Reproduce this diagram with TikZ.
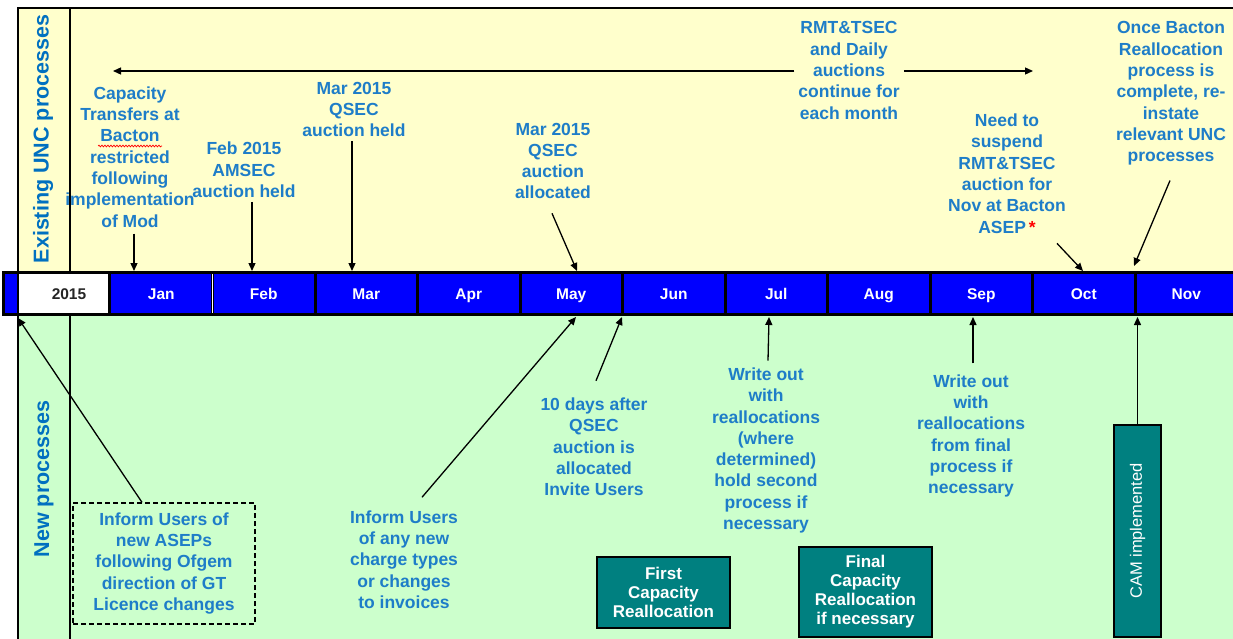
\documentclass[tikz,border=0pt]{standalone}
\usepackage{fontspec}
\setmainfont{Liberation Sans}
\usetikzlibrary{arrows.meta,calc,decorations.pathmorphing}
\definecolor{annblue}{RGB}{30,125,200}
\definecolor{hdrblue}{RGB}{0,112,192}
\definecolor{yel}{RGB}{255,255,204}
\definecolor{grn}{RGB}{204,255,204}
\definecolor{tealc}{RGB}{0,128,128}
\definecolor{barblue}{RGB}{0,0,255}
\begin{document}
\begin{tikzpicture}[x=1pt,y=-1pt,
  ann/.style={font=\bfseries\fontsize{17.5}{21.3}\selectfont, text=annblue, align=center, inner sep=0pt},
  arr/.style={-{Triangle[length=8pt,width=7pt]}, line width=1.3pt, black},
  tbox/.style={draw=black, line width=1.5pt, fill=tealc, text=white, font=\bfseries\fontsize{17}{19}\selectfont, align=center, inner sep=0pt},
  month/.style={minimum width=102.5pt, minimum height=39pt, inner sep=0pt, text height=11.2pt, text depth=0pt, text=white, font=\bfseries\fontsize{15.5}{18}\selectfont},
  hdr/.style={rotate=90, font=\bfseries\fontsize{21.5}{24}\selectfont, text=hdrblue, inner sep=0pt},
  sepline/.style={line width=3pt, black}
]
\useasboundingbox (0,0) rectangle (1233,639);
\fill[white] (0,0) rectangle (1233,639);
% panels
\fill[yel] (18,8) rectangle (1233,272);
\fill[grn] (18,315) rectangle (1233,639);
\draw[line width=1.5pt] (1233,8) -- (18,8) -- (18,639);
\draw[line width=1.5pt] (70,8) -- (70,272);
\draw[line width=1.5pt] (70,315) -- (70,639);
% timeline bar
\draw[fill=barblue, line width=3pt] (3,272.5) rectangle (1245,314.5);
\node[fill=white, minimum width=90pt, minimum height=39pt, inner sep=0pt] (yrcell) at (63,293.5) {};
\draw[line width=1.5pt] (18,272) -- (18,315);
\node[font=\bfseries\fontsize{15.5}{18}\selectfont, text=black!85, text height=11.2pt, text depth=0pt, inner sep=0pt] (yr) at (69,293.5) {2015};
\foreach \m [count=\i from 0] in {Jan,Feb,Mar,Apr,May,Jun,Jul,Aug,Sep,Oct,Nov}
  \node[month] (m\i) at ({110+102.5*(\i+0.5)},293.5) {\m};
\draw[sepline] (m0.north west) -- (m0.south west);
\foreach \i in {0,...,10}
  \draw[sepline] (m\i.north east) -- (m\i.south east);
\draw[white, line width=1.2pt] (m0.north east) -- (m0.south east);
% headers
\node[hdr] (exist) at (43,139) {Existing UNC processes};
\node[hdr] (newp) at (44,479) {New processes};
% top annotations
\node[ann] (cap) at (130,157) {Capacity\\Transfers at\\Bacton\\restricted\\following\\implementation\\of Mod};
\draw[red, line width=0.7pt, decorate, decoration={snake, amplitude=0.9pt, segment length=3pt}] (98,146) -- (162,146);
\node[ann] (feb) at (244,170) {Feb 2015\\AMSEC\\auction held};
\node[ann] (marq) at (354,109.5) {Mar 2015\\QSEC\\auction held};
\node[ann] (maya) at (553,161) {Mar 2015\\QSEC\\auction\\allocated};
\node[ann] (rmt) at (849,70.5) {RMT\&TSEC\\and Daily\\auctions\\continue for\\each month};
\node[ann] (need) at (1007,173.5) {Need to\\suspend\\RMT\&TSEC\\auction for\\Nov at Bacton\\ASEP\,\textcolor{red}{*}};
\node[ann] (once) at (1171,93.5) {Once Bacton\\Reallocation\\process is\\complete, re-\\instate\\relevant UNC\\processes};
% bottom annotations
\node[ann, draw=black, dash pattern=on 5pt off 3pt, line width=1.3pt, minimum width=182pt, minimum height=121pt] (inf) at (164,563.5) {Inform Users of\\new ASEPs\\following Ofgem\\direction of GT\\Licence changes};
\node[ann] (inv) at (404,559.5) {Inform Users\\of any new\\charge types\\or changes\\to invoices};
\node[ann] (ten) at (594,447) {10 days after\\QSEC\\auction is\\allocated\\Invite Users};
\node[ann] (wr1) at (766,450.5) {Write out\\with\\reallocations\\(where\\determined)\\hold second\\process if\\necessary};
\node[ann] (wr2) at (971,436) {Write out\\with\\reallocations\\from final\\process if\\necessary};
% teal boxes
\node[tbox, minimum width=133pt, minimum height=71pt] (first) at (663.5,592.5) {First\\Capacity\\Reallocation};
\node[tbox, minimum width=133pt, minimum height=90pt] (final) at (865.5,592) {Final\\Capacity\\Reallocation\\if necessary};
\node[tbox, minimum width=47pt, minimum height=212pt] (cam) at (1137.5,531) {};
\node[rotate=90, text=white, font=\fontsize{16.5}{18}\selectfont, inner sep=0pt] (camt) at (cam.center) {CAM implemented};
% arrow targets
\coordinate (tJan) at (134,271);
\coordinate (tFeb) at (252,271);
\coordinate (tMar) at (352,271);
\coordinate (tMay) at (577,271);
\coordinate (tOct) at (1083,271);
\coordinate (tNov) at (1134,266);
\coordinate (lEnd) at (113,71);
\coordinate (rEnd) at (1033,71);
\coordinate (bLeft) at (18,318);
\coordinate (bMay) at (576,317);
\coordinate (bJun) at (622,317);
\coordinate (bJul) at (769,317);
\coordinate (bSep) at (973,317);
\coordinate (bNov) at (1137.5,317);
% arrows top
\draw[arr] ($(cap.south -| tJan)+(0,6)$) -- (tJan);
\draw[arr] ($(feb.south -| tFeb)+(0,4)$) -- (tFeb);
\draw[arr] ($(marq.south -| tMar)+(0,4)$) -- (tMar);
\draw[arr] ($(maya.south)+(-1,14)$) -- (tMay);
\draw[arr] ($(rmt.west)+(-4,0.5)$) -- (lEnd);
\draw[arr] ($(rmt.east)+(4,0.5)$) -- (rEnd);
\draw[arr] ($(need.south)+(50,10)$) -- (tOct);
\draw[arr] ($(once.south)+(-1,15)$) -- (tNov);
% arrows bottom
\draw[arr] ($(inf.north)+(-22,0)$) -- (bLeft);
\draw[arr] ($(inv.north)+(18,-13)$) -- (bMay);
\draw[arr] ($(ten.north)+(2,-17)$) -- (bJun);
\draw[arr] ($(wr1.north -| bJul)+(-1,-7)$) -- (bJul);
\draw[arr] ($(wr2.north -| bSep)+(0,-11)$) -- (bSep);
\draw[arr] (cam.north) -- (bNov);
\end{tikzpicture}
\end{document}
